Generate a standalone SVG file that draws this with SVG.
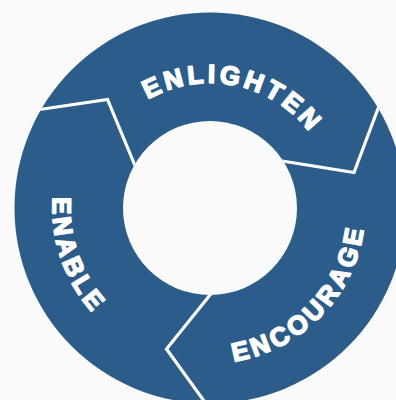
<svg xmlns="http://www.w3.org/2000/svg" width="396" height="400" viewBox="0 0 396 400">
  <style>
    .ring { fill: #2c5d8a; }
    .div { fill: none; stroke: #ffffff; stroke-width: 3.2; stroke-linejoin: miter; }
    .lbl { font-family: "Liberation Sans", Arial, sans-serif; font-weight: 900; font-size: 26px; fill: #ffffff; stroke: #ffffff; stroke-width: 1.6px; stroke-linejoin: round; letter-spacing: 3.6px; }
  </style>
  <defs>
    <clipPath id="ringClip">
      <path clip-rule="evenodd" d="M 14.5 208 A 195.5 195.5 0 1 0 405.5 208 A 195.5 195.5 0 1 0 14.5 208 Z M 123 208 A 87 87 0 1 1 297 208 A 87 87 0 1 1 123 208 Z"/>
    </clipPath>
    <path id="pTop" d="M 90.5 171.4 A 125 125 0 0 1 334.1 223.2"/>
    <path id="pRight" d="M 112.5 328.5 A 155 155 0 0 0 327 106.3"/>
    <path id="pLeft" d="M 145.1 65 A 157 157 0 0 0 249 360.1"/>
  </defs>
  <rect width="396" height="400" fill="#fafafa"/>
  <g id="ring">
    <path class="ring" fill-rule="evenodd" d="M 14.5 208 A 195.5 195.5 0 1 0 405.5 208 A 195.5 195.5 0 1 0 14.5 208 Z M 123 208 A 87 87 0 1 1 297 208 A 87 87 0 1 1 123 208 Z"/>
  </g>
  <g id="connectors" clip-path="url(#ringClip)">
    <polyline class="div" points="33,110.5 107.5,99.5 136,168"/>
    <polyline class="div" points="382,98 354,172.5 279,160.5"/>
    <polyline class="div" points="214,290 166.5,349 212,412"/>
  </g>
  <g id="enlighten">
    <text class="lbl"><textPath href="#pTop" startOffset="50%" text-anchor="middle">ENLIGHTEN</textPath></text>
  </g>
  <g id="encourage">
    <text class="lbl"><textPath href="#pRight" startOffset="50%" text-anchor="middle">ENCOURAGE</textPath></text>
  </g>
  <g id="enable">
    <text class="lbl"><textPath href="#pLeft" startOffset="50%" text-anchor="middle">ENABLE</textPath></text>
  </g>
</svg>
